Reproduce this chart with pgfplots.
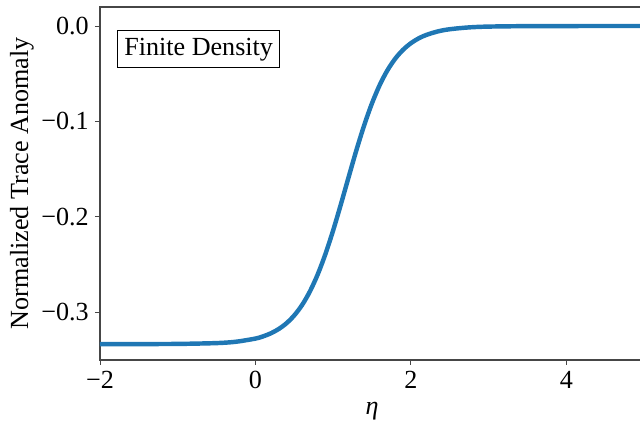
\documentclass[border=0pt]{standalone}
\usepackage{fontspec}
\setmainfont{Liberation Serif}
\usepackage{pgfplots}
\pgfplotsset{compat=1.18}
\definecolor{mplblue}{RGB}{31,119,180}
\definecolor{spine}{RGB}{70,70,70}

% trace anomaly across the crossover, normalised
\pgfplotstableread{
eta    anomaly
-2.00  -0.33333
-1.50  -0.33330
-1.00  -0.33315
-0.50  -0.33228
-0.25  -0.33086
 0.00  -0.32754
 0.10  -0.32521
 0.20  -0.32198
 0.30  -0.31752
 0.40  -0.31144
 0.50  -0.30323
 0.60  -0.29240
 0.70  -0.27830
 0.80  -0.26057
 0.90  -0.23908
 1.00  -0.21416
 1.10  -0.18667
 1.20  -0.15806
 1.30  -0.12988
 1.40  -0.10383
 1.50  -0.08090
 1.60  -0.06167
 1.70  -0.04617
 1.80  -0.03408
 1.90  -0.02488
 2.00  -0.01802
 2.10  -0.01297
 2.20  -0.00929
 2.35  -0.00560
 2.50  -0.00336
 2.75  -0.00143
 3.00  -0.00060
 3.50  -0.00011
 4.00  -0.00002
 4.50   0.00000
 5.00   0.00000
}\anomalydata

\begin{document}
\begin{tikzpicture}
\begin{axis}[
  scale only axis,
  width=391.7pt, height=254.2pt,
  xmin=-2, xmax=5,
  ymin=-0.35, ymax=0.02,
  xtick={-2,0,2,4},
  xticklabels={−2,0,2,4},
  ytick={-0.3,-0.2,-0.1,0},
  yticklabels={−0.3,−0.2,−0.1,0.0},
  tick align=outside,
  major tick length=3.6pt,
  tick style={spine, line width=0.7pt},
  xtick pos=bottom, ytick pos=left,
  axis line style={spine, line width=0.9pt},
  tick label style={font=\fontsize{18.8}{22}\selectfont},
  label style={font=\fontsize{18.8}{22}\selectfont},
  xlabel={\textit{η}},
  ylabel={Normalized Trace Anomaly},
  ylabel style={at={(axis description cs:-0.1434,0.5)}, anchor=center},
  xlabel style={at={(axis description cs:0.5,-0.145)}, anchor=center},
  every x tick label/.append style={yshift=-1pt},
  every y tick label/.append style={xshift=-1pt},
]
\addplot[mplblue, line width=3.2pt, smooth] table[x=eta, y=anomaly] {\anomalydata};
\node[draw=black, line width=0.7pt, anchor=north west, fill=white,
      inner xsep=5pt, inner ysep=4pt,
      font=\fontsize{18.8}{22}\selectfont,
      text height=14pt, text depth=4.6pt]
  at (rel axis cs:0.031,0.935) {Finite Density};
\end{axis}
\pgfresetboundingbox
\useasboundingbox (-72pt,-47.52pt) rectangle (388.8pt,259.2pt);
\end{tikzpicture}
\end{document}
